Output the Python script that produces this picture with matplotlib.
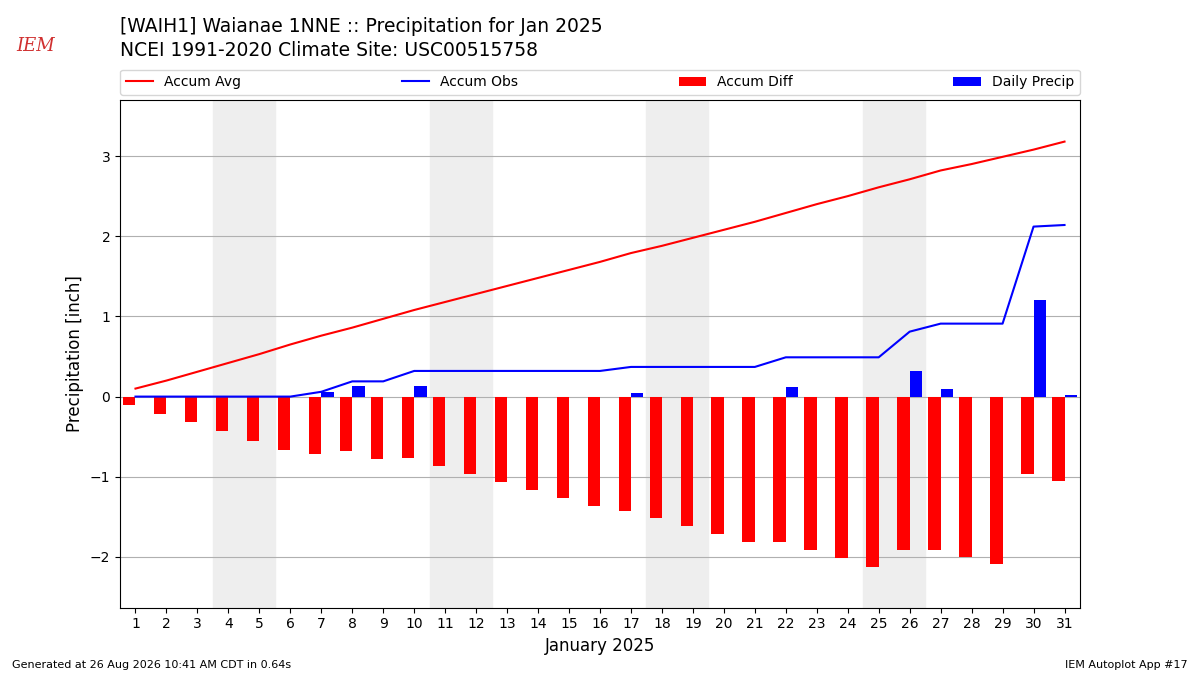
import matplotlib
matplotlib.use("Agg")
import matplotlib.pyplot as plt
import numpy as np

days = list(range(1, 32))
accum_avg = [0.10, 0.20, 0.31, 0.42, 0.53, 0.65, 0.76, 0.86, 0.97, 1.08, 1.18, 1.28, 1.38, 1.48, 1.58, 1.68,
             1.79, 1.88, 1.98, 2.08, 2.18, 2.29, 2.40, 2.50, 2.61, 2.71, 2.82, 2.90, 2.99, 3.08, 3.18]
accum_obs = [0, 0, 0, 0, 0, 0, 0.06, 0.19, 0.19, 0.32, 0.32, 0.32, 0.32, 0.32, 0.32, 0.32,
             0.37, 0.37, 0.37, 0.37, 0.37, 0.49, 0.49, 0.49, 0.49, 0.81, 0.91, 0.91, 0.91, 2.12, 2.14]
accum_diff = [-0.10, -0.22, -0.32, -0.43, -0.55, -0.66, -0.71, -0.68, -0.78, -0.77, -0.87, -0.97, -1.07,
              -1.17, -1.27, -1.37, -1.43, -1.51, -1.61, -1.71, -1.81, -1.81, -1.91, -2.01, -2.12, -1.91,
              -1.91, -2.00, -2.09, -0.97, -1.05]
daily = [0, 0, 0, 0, 0, 0, 0.06, 0.13, 0, 0.13, 0, 0, 0, 0, 0, 0,
         0.05, 0, 0, 0, 0, 0.12, 0, 0, 0, 0.32, 0.10, 0, 0, 1.21, 0.02]
weekends = [4, 11, 18, 25]

fig = plt.figure(figsize=(12, 6.75), dpi=100)
ax = fig.add_axes([0.1, 0.1, 0.8, 0.752])
x = np.array(days)
for w in weekends:
    ax.axvspan(w - 0.5, w + 1.5, color="#eeeeee", zorder=0)
ax.plot(x, accum_avg, color="r", label="Accum Avg", zorder=3)
ax.plot(x, accum_obs, color="b", label="Accum Obs", zorder=3)
ax.bar(x - 0.2, accum_diff, width=0.4, color="r", label="Accum Diff", zorder=2)
ax.bar(x + 0.2, daily, width=0.4, color="b", label="Daily Precip", zorder=2)
ax.set_xlim(0.5, 31.5)
ax.set_ylim(-2.63, 3.7)
ax.set_xticks(days)
ax.set_yticks([-2, -1, 0, 1, 2, 3])
ax.set_yticklabels(["\u22122", "\u22121", "0", "1", "2", "3"])
ax.grid(axis="y", zorder=1)
ax.set_axisbelow(True)
ax.set_xlabel("January 2025", fontsize=12)
ax.set_ylabel("Precipitation [inch]", fontsize=12)
ax.legend(loc="lower left", bbox_to_anchor=(0, 1.01, 1, 0.05), ncol=4, mode="expand", borderaxespad=0)

fig.text(0.1, 0.975, "[WAIH1] Waianae 1NNE :: Precipitation for Jan 2025", fontsize=13.5, va="top")
fig.text(0.1, 0.94, "NCEI 1991-2020 Climate Site: USC00515758", fontsize=13.5, va="top")
fig.text(0.03, 0.925, "IEM", color="#d03030", fontsize=13, style="italic", family="serif", ha="center")
fig.text(0.01, 0.01, "Generated at 26 Aug 2026 10:41 AM CDT in 0.64s", fontsize=8)
fig.text(0.99, 0.01, "IEM Autoplot App #17", fontsize=8, ha="right")
fig.savefig("out.png", dpi=100)
